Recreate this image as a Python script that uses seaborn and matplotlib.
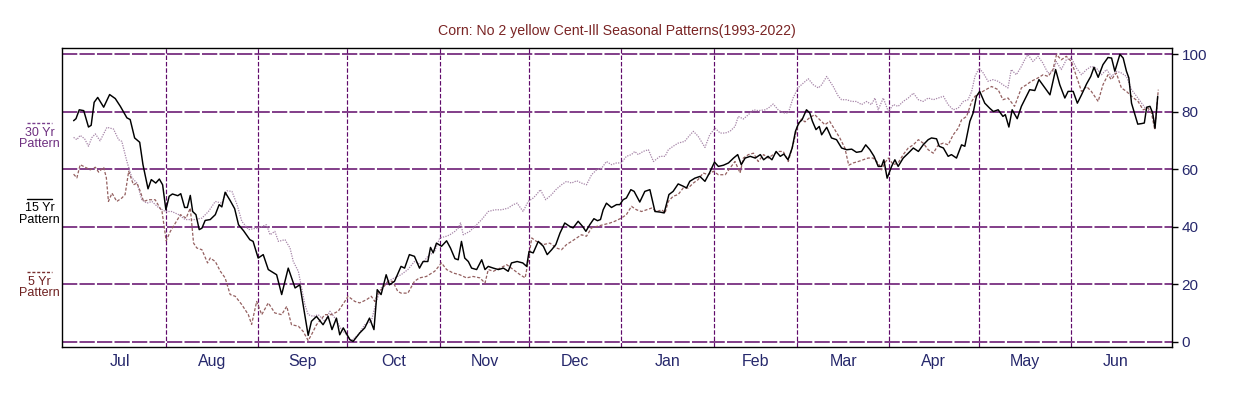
import matplotlib
matplotlib.use("Agg")
import matplotlib.pyplot as plt
import seaborn as sns
import numpy as np
import pandas as pd
from matplotlib.lines import Line2D

title = "Corn: No 2 yellow Cent-Ill Seasonal Patterns(1993-2022)"
month_names = ["Jul", "Aug", "Sep", "Oct", "Nov", "Dec", "Jan", "Feb", "Mar", "Apr", "May", "Jun"]
month_lengths = [31, 31, 30, 31, 30, 31, 31, 28, 31, 30, 31, 30]
ytick_values = [0, 20, 40, 60, 80, 100]
legend_labels = ["30 Yr", "15 Yr", "5 Yr"]

# x = calendar day counted from Jul 1, y = seasonal index (0-100)
days_15 = [0, 0.8, 1.9, 3.4, 5.0, 5.9, 6.9, 8.1, 10.1, 12.1, 14.0, 15.7, 17.9, 19.0, 20.5, 22.2, 23.3, 25.0,
           26.1, 27.6, 28.8, 29.9, 31.0, 32.1, 33.2, 35.0, 36.0, 37.3, 38.2, 39.2, 40.0, 41.1, 42.2, 43.1,
           44.2, 45.9, 47.6, 48.9, 49.8, 50.9, 52.6, 54.1, 55.4, 57.1, 59.2, 60.3, 62.0, 63.7, 65.4, 68.2,
           69.9, 72.1, 74.4, 76.0, 77.1, 78.8, 79.9, 81.6, 83.8, 85.5, 86.8, 88.3, 89.4, 90.6, 92.8, 93.9,
           96.1, 97.8, 99.4, 100.9, 102.0, 103.3, 105.0, 106.1, 107.8, 110.0, 111.2, 112.8, 114.5, 116.2,
           117.4, 119.0, 119.9, 120.8, 121.9, 123.6, 125.3, 126.6, 128.1, 129.2, 130.3, 131.4, 132.6, 133.7,
           135.4, 137.1, 138.2, 139.3, 141.0, 142.7, 144.4, 146.0, 147.1, 149.0, 150.9, 152.2, 153.0, 154.4,
           156.1, 157.8, 159.1, 160.6, 162.0, 163.4, 165.0, 166.7, 167.8, 169.5, 171.0, 172.1, 173.4, 174.8,
           176.0, 177.0, 177.9, 179.0, 180.7, 182.4, 183.5, 184.6, 185.7, 187.2, 188.3, 190.2, 191.9, 193.6,
           195.3, 197.0, 198.4, 200.0, 201.4, 203.1, 204.8, 205.9, 207.0, 208.7, 210.4, 212.1, 213.6, 215.3,
           216.6, 218.3, 220.0, 221.7, 223.1, 224.3, 225.6, 227.3, 229.0, 230.7, 231.8, 233.3, 234.6, 236.0,
           237.4, 238.6, 240.0, 241.4, 242.5, 243.6, 244.7, 246.2, 247.3, 248.2, 249.4, 250.5, 251.3, 253.0,
           254.6, 256.3, 258.0, 259.7, 261.4, 263.0, 264.7, 266.1, 267.5, 268.9, 270.3, 271.4, 272.2, 273.3,
           274.8, 275.9, 277.0, 278.7, 280.4, 282.1, 283.8, 285.4, 287.1, 288.2, 289.9, 290.8, 292.2, 293.8,
           294.9, 296.6, 298.3, 299.4, 301.1, 302.2, 303.3, 304.4, 306.1, 307.8, 309.0, 310.6, 312.2, 313.0,
           314.2, 315.3, 317.0, 318.4, 319.8, 321.2, 322.9, 324.3, 326.3, 328.0, 329.9, 331.3, 333.0, 334.1,
           335.8, 337.2, 338.6, 340.3, 341.7, 342.8, 344.2, 345.8, 347.5, 348.7, 349.8, 351.5, 352.6, 353.7,
           354.5, 355.4, 357.5, 358.8, 359.7, 360.5, 361.6, 362.5, 363.3, 364.2]
vals_15 = [76.9, 77.6, 80.7, 80.4, 74.7, 75.3, 83.3, 85.0, 81.6, 86.0, 84.6, 81.9, 77.9, 77.3, 70.9, 69.4, 61.6, 53.2,
           56.4, 55.2, 56.6, 54.6, 45.9, 50.6, 51.4, 50.8, 51.5, 46.7, 46.7, 50.9, 45.3, 44.2, 39.0, 39.5,
           42.2, 42.5, 44.2, 47.7, 46.9, 52.0, 49.1, 46.3, 40.7, 38.6, 35.5, 34.9, 29.1, 30.3, 25.1, 23.3,
           16.4, 25.6, 18.7, 19.8, 12.9, 2.2, 7.1, 8.8, 5.9, 8.8, 4.2, 8.2, 2.4, 4.8, 0.7, 0.1,
           3.0, 4.8, 8.2, 4.2, 18.1, 16.4, 23.3, 19.8, 21.0, 26.2, 25.6, 30.3, 29.7, 25.6,
           27.9, 27.9, 32.8, 30.9, 34.3, 33.2, 35.1, 32.6, 28.9, 28.5, 34.9, 29.1, 27.9, 25.6,
           25.1, 28.5, 25.1, 26.2, 25.6, 25.1, 25.6, 24.5, 27.4, 27.9, 27.4, 26.2, 31.4, 30.9,
           34.9, 33.2, 30.3, 32.0, 33.8, 37.8, 41.3, 40.1, 39.6, 41.9, 40.1, 38.4, 40.7, 42.8,
           42.1, 42.5, 45.9, 48.2, 46.7, 47.7, 47.7, 49.4, 50.0, 52.9, 52.3, 48.6, 52.3, 52.9,
           45.3, 45.1, 44.8, 51.2, 52.3, 54.9, 54.1, 53.5, 55.8, 56.9, 57.5, 55.8, 58.7, 62.5,
           61.0, 61.4, 62.2, 63.9, 65.1, 61.6, 63.9, 64.5, 63.9, 65.1, 63.3, 64.5, 63.3, 66.2,
           64.5, 65.3, 63.3, 67.4, 73.2, 76.1, 77.2, 80.7, 79.6, 76.7, 73.8, 74.9, 72.0, 74.6,
           70.9, 70.3, 67.4, 66.8, 67.0, 65.9, 66.2, 68.5, 66.8, 64.5, 61.0, 61.0, 63.3, 56.9,
           61.0, 63.3, 61.0, 63.9, 65.6, 67.4, 66.2, 68.5, 70.3, 70.9, 70.6, 68.0, 67.4, 64.5,
           65.1, 63.9, 68.5, 68.0, 76.7, 79.6, 85.4, 87.1, 83.0, 81.2, 80.1, 80.7, 78.4, 79.0,
           74.7, 80.7, 77.6, 81.9, 84.8, 87.7, 87.4, 91.2, 88.3, 85.9, 94.7, 89.4, 84.8, 87.1,
           87.1, 83.0, 85.9, 89.7, 92.3, 95.5, 92.0, 96.4, 98.9, 98.7, 94.1, 100.0, 98.7, 94.1,
           91.8, 83.0, 75.7, 75.9, 76.1, 81.6, 81.9, 79.6, 74.3, 85.4]

days_30 = [0, 1.1, 2.2, 3.7, 5.0, 6.1, 7.3, 8.9, 11.2, 13.4, 15.1, 16.2, 17.9, 19.6, 21.3, 22.9, 24.6, 26.3,
           28.5, 30.8, 33.0, 35.3, 37.5, 40.8, 43.1, 45.3, 47.6, 49.8, 51.5, 53.2, 54.9, 56.5, 58.8, 62.0,
           64.8, 66.0, 67.6, 68.8, 71.0, 72.7, 73.8, 75.5, 76.6, 77.7, 78.8, 80.5, 82.2, 84.4, 86.1, 87.8,
           90.0, 91.7, 93.3, 95.6, 97.8, 100.0, 101.7, 103.3, 105.6, 107.8, 110.0, 112.3, 114.5, 116.8,
           119.0, 121.3, 123.0, 125.3, 126.4, 128.1, 129.2, 130.0, 130.9, 133.1, 135.4, 137.1, 139.3, 141.5,
           143.8, 146.0, 147.7, 149.0, 151.0, 152.7, 154.4, 155.5, 156.8, 158.6, 160.6, 162.0, 163.9, 165.6,
           167.3, 169.0, 170.6, 172.3, 174.0, 175.7, 177.4, 179.0, 180.7, 182.4, 184.0, 185.7, 187.4, 188.5,
           189.7, 191.3, 193.1, 194.8, 197.0, 198.7, 199.8, 201.4, 203.1, 205.3, 206.7, 208.2, 209.8, 212.1,
           213.7, 215.5, 217.2, 218.9, 220.5, 222.2, 223.3, 225.0, 226.7, 228.4, 230.0, 232.3, 233.4, 235.0,
           236.7, 238.4, 240.1, 241.7, 243.4, 244.5, 246.8, 248.5, 250.2, 251.3, 253.0, 255.2, 256.9, 258.0,
           259.7, 261.4, 263.0, 264.7, 266.4, 268.0, 269.2, 270.3, 272.0, 273.7, 275.4, 277.0, 278.7, 280.4,
           282.1, 283.8, 285.4, 287.1, 288.8, 290.5, 292.2, 293.8, 295.5, 297.2, 298.9, 300.5, 301.7, 302.8,
           304.2, 305.6, 307.2, 308.9, 310.6, 312.2, 313.9, 315.0, 316.7, 318.4, 319.5, 320.6, 322.3, 324.0,
           325.6, 327.3, 329.0, 330.1, 331.8, 333.5, 335.2, 336.9, 338.6, 340.3, 341.9, 343.6, 345.3, 347.0,
           348.7, 350.4, 352.0, 353.7, 355.4, 357.1, 358.8, 360.5, 362.1, 363.3, 364.2]
vals_30 = [71.1, 70.3, 71.8, 70.6, 68.0, 71.0, 72.3, 69.9, 74.6, 74.0, 70.3, 69.7, 62.7, 57.0, 55.2, 49.4, 48.2, 48.8,
           46.7, 45.3, 45.3, 44.2, 42.5, 42.5, 43.0, 45.3, 48.8, 48.2, 52.5, 52.3, 47.7, 41.9, 39.0, 39.6,
           40.7, 37.2, 38.4, 34.9, 35.5, 32.6, 27.9, 24.5, 18.7, 12.9, 9.4, 8.8, 9.4, 7.1, 10.6, 8.2,
           4.2, 2.4, 0.4, 2.4, 5.9, 7.1, 14.0, 18.7, 21.0, 22.2, 23.3, 25.1, 27.9, 26.8,
           29.7, 31.4, 36.1, 36.7, 37.2, 38.4, 39.5, 41.3, 37.2, 38.4, 40.7, 42.5, 45.3, 45.9,
           45.9, 46.5, 47.7, 48.2, 45.3, 48.8, 50.0, 51.2, 52.9, 49.4, 51.2, 52.9, 54.6, 55.8,
           55.2, 56.0, 55.2, 54.6, 58.1, 59.8, 60.4, 62.7, 61.6, 62.2, 62.2, 64.5, 65.1, 66.2,
           65.1, 66.2, 66.8, 62.7, 64.5, 64.5, 66.8, 68.0, 69.1, 69.7, 71.5, 73.2, 71.5, 67.6,
           72.0, 74.3, 72.6, 72.6, 73.2, 74.9, 78.4, 77.5, 79.0, 80.7, 80.4, 80.7, 81.3, 82.7,
           80.7, 79.6, 79.6, 84.8, 88.4, 89.4, 91.5, 89.4, 88.3, 89.4, 92.3, 88.8, 85.4, 84.2,
           84.2, 83.6, 83.6, 82.5, 83.6, 82.5, 84.8, 80.7, 84.8, 80.1, 82.5, 81.9, 83.6, 84.8,
           86.5, 84.2, 83.6, 84.8, 84.2, 84.8, 85.4, 82.5, 80.7, 81.3, 83.6, 84.2, 87.1, 92.3,
           95.2, 93.5, 90.6, 91.2, 90.6, 89.4, 88.3, 94.7, 92.9, 95.8, 98.1, 99.9, 97.5, 99.3,
           97.0, 93.5, 94.1, 97.5, 94.7, 98.1, 98.7, 95.2, 92.9, 94.7, 95.8, 95.2, 92.9, 94.7,
           92.3, 94.1, 93.5, 92.3, 87.7, 85.4, 83.0, 80.7, 80.1, 76.1, 83.6]

days_5 = [0, 1.1, 2.2, 3.9, 5.6, 7.3, 8.4, 10.1, 11.0, 11.7, 12.9, 14.5, 16.2, 17.3, 18.5, 20.1, 21.3, 22.4,
          23.5, 25.2, 27.4, 29.7, 31.1, 32.5, 34.2, 35.9, 37.8, 39.2, 40.3, 41.4, 43.1, 45.0, 45.9, 47.6,
          49.3, 50.9, 52.6, 54.3, 56.5, 58.7, 59.8, 61.5, 63.2, 65.4, 67.6, 69.9, 71.6, 73.2, 75.5, 77.1,
          78.8, 79.9, 81.6, 84.4, 86.6, 88.9, 91.1, 92.2, 94.5, 96.1, 98.4, 100.0, 101.2, 102.3, 103.9, 105.6,
          107.2, 108.9, 110.0, 112.3, 114.5, 116.2, 118.5, 121.3, 123.6, 125.3, 127.5, 129.7, 132.0, 134.2,
          136.5, 138.2, 139.3, 141.0, 143.3, 145.5, 147.7, 150.0, 151.7, 152.7, 153.9, 155.5, 157.8, 160.0,
          162.2, 163.9, 165.6, 167.3, 169.0, 170.6, 172.3, 174.0, 175.7, 177.9, 180.2, 181.8, 184.0, 185.7,
          187.4, 189.1, 190.8, 192.5, 194.2, 195.9, 197.6, 198.7, 199.8, 201.4, 203.1, 204.8, 206.5, 208.2,
          209.8, 211.5, 213.2, 214.9, 216.6, 218.9, 220.5, 222.2, 223.9, 225.0, 226.7, 228.4, 230.0, 231.8,
          233.4, 235.0, 236.7, 238.4, 240.1, 241.7, 243.2, 244.5, 245.7, 247.3, 249.0, 250.7, 252.4, 254.0,
          255.7, 257.4, 259.1, 260.4, 261.9, 263.6, 265.3, 266.9, 268.6, 270.3, 271.4, 272.5, 273.7, 275.4,
          277.0, 278.7, 280.4, 282.1, 283.8, 285.4, 287.1, 288.8, 290.5, 292.2, 293.8, 295.5, 297.2, 298.3,
          300.0, 301.7, 302.8, 304.5, 306.1, 308.4, 310.6, 312.2, 313.9, 316.1, 318.4, 320.1, 321.7, 324.0,
          325.7, 327.4, 329.0, 330.2, 331.8, 333.5, 335.2, 336.9, 338.6, 340.3, 341.9, 344.2, 345.8, 347.5,
          348.6, 350.3, 352.0, 353.7, 355.4, 357.6, 359.3, 361.0, 362.1, 363.2, 364.4]
vals_5 = [58.3, 57.0, 61.6, 60.7, 59.8, 60.7, 59.0, 60.7, 57.0, 48.8, 51.7, 48.8, 50.0, 51.2, 59.3, 54.6, 55.2, 52.3,
          48.8, 49.4, 49.4, 45.3, 35.1, 38.4, 41.3, 44.2, 43.0, 46.5, 34.3, 32.6, 32.0, 27.4, 29.1, 27.9,
          24.5, 22.2, 16.4, 15.8, 12.9, 9.4, 6.0, 14.0, 9.4, 13.5, 10.0, 9.4, 12.3, 5.9, 5.4, 3.6,
          0.4, 2.4, 5.9, 9.4, 9.4, 10.6, 14.0, 15.8, 14.0, 13.5, 14.6, 15.8, 14.0, 16.9, 18.7, 21.0,
          21.0, 17.5, 16.9, 16.9, 21.0, 22.2, 22.7, 24.5, 27.4, 25.1, 23.9, 23.3, 22.2, 22.7,
          22.2, 20.4, 25.1, 24.5, 25.6, 26.8, 25.1, 23.3, 22.2, 27.9, 36.1, 34.9, 33.8, 34.3,
          32.6, 32.0, 33.8, 34.9, 36.1, 37.2, 36.7, 39.6, 40.1, 40.7, 41.3, 41.9, 43.0, 44.2,
          47.1, 45.9, 45.3, 45.9, 46.5, 45.3, 45.9, 44.8, 48.8, 50.6, 51.2, 53.5, 53.5, 55.2,
          56.4, 58.7, 58.1, 59.3, 58.1, 58.1, 60.4, 62.7, 58.7, 63.9, 65.1, 65.6, 62.7, 65.1,
          63.9, 65.1, 66.2, 66.2, 62.7, 68.6, 74.9, 77.5, 76.5, 78.0, 79.0, 77.2, 75.5, 76.7,
          73.8, 70.9, 67.4, 61.4, 62.2, 62.7, 63.3, 63.9, 63.9, 62.2, 59.8, 62.2, 63.9, 61.6,
          62.2, 65.1, 67.4, 68.5, 70.3, 69.1, 66.8, 65.6, 68.5, 69.1, 68.5, 72.0, 74.3, 77.2,
          78.4, 83.6, 85.4, 86.5, 87.5, 88.8, 87.7, 84.2, 84.8, 81.9, 88.3, 89.4, 90.6, 91.8,
          92.9, 92.3, 94.7, 99.9, 98.1, 99.3, 97.5, 92.3, 87.1, 88.8, 87.1, 83.6, 89.4, 92.9,
          91.2, 93.5, 88.3, 87.1, 85.4, 83.6, 80.7, 81.3, 79.6, 73.8, 87.7]

# ---------------------------------------------------------------- styling
sns.set_style("white")
plt.rcParams["font.family"] = ["Liberation Sans", "DejaVu Sans"]
plt.rcParams["lines.scale_dashes"] = False

GRID = "#600a6a"
NAVY = "#26286c"
C30 = "#a685a8"
C5 = "#946060"
C15 = "#000000"

W, H = 1238, 397
fig = plt.figure(figsize=(W / 100, H / 100), dpi=100)
ax = fig.add_axes([62 / W, 1 - 347 / H, (1172 - 62) / W, (347 - 48) / H])

df30 = pd.DataFrame({"day": days_30, "value": vals_30})
df5 = pd.DataFrame({"day": days_5, "value": vals_5})
df15 = pd.DataFrame({"day": days_15, "value": vals_15})

sns.lineplot(data=df30, x="day", y="value", ax=ax, color=C30, lw=0.9,
             linestyle=(0, (0.9, 0.9)), estimator=None, sort=False, zorder=3)
sns.lineplot(data=df5, x="day", y="value", ax=ax, color=C5, lw=0.9,
             linestyle=(0, (2.2, 1.3)), estimator=None, sort=False, zorder=4)
sns.lineplot(data=df15, x="day", y="value", ax=ax, color=C15, lw=1.05,
             estimator=None, sort=False, zorder=5)

month_starts = np.concatenate([[0], np.cumsum(month_lengths)[:-1]])
month_mids = month_starts + np.array(month_lengths) / 2.0

ax.set_xlim(-3.9, 369)
ax.set_ylim(-1.85, 102.2)
ax.set_xlabel("")
ax.set_ylabel("")

ax.set_xticks(month_starts[1:])
ax.set_xticklabels([""] * (len(month_starts) - 1))
ax.set_xticks(month_mids, minor=True)
ax.set_xticklabels(month_names, minor=True)
ax.tick_params(axis="x", which="both", length=0, pad=5, labelsize=11.5, labelcolor=NAVY)

ax.yaxis.tick_right()
ax.set_yticks(ytick_values)
ax.set_yticklabels([str(v) for v in ytick_values])
ax.tick_params(axis="y", which="major", direction="out", length=4, width=1, color="black",
               labelsize=11, labelcolor=NAVY, pad=3, left=False, right=True,
               labelleft=False, labelright=True)

ax.set_axisbelow(True)
ax.grid(False)
ax.yaxis.grid(True, which="major", color=GRID, lw=1.1, linestyle=(0, (11, 1.6)))
ax.xaxis.grid(True, which="major", color=GRID, lw=0.85, linestyle=(0, (3.2, 1.4)))

for s in ax.spines.values():
    s.set_visible(True)
    s.set_color("black")
    s.set_linewidth(1.0)

fig.text(617 / W, 1 - 31 / H, title, ha="center", va="center", fontsize=10.2, color="#7a2424")

# left-side pattern legend
legend_specs = [
    (legend_labels[0], 123, "#6e2f80", "#7a3f8e", (0, (2.2, 1.3))),
    (legend_labels[1], 198.7, "#000000", "#000000", "-"),
    (legend_labels[2], 272.3, "#6e2020", "#7a3030", (0, (2.2, 1.3))),
]
for lab, ly, tcol, lcol, ls in legend_specs:
    fig.add_artist(Line2D([27 / W, 52 / W], [1 - ly / H, 1 - ly / H], color=lcol, lw=1.0,
                          linestyle=ls, transform=fig.transFigure))
    fig.text(39.5 / W, 1 - (ly + 9.5) / H, lab, ha="center", va="center", fontsize=9, color=tcol)
    fig.text(39.5 / W, 1 - (ly + 21) / H, "Pattern", ha="center", va="center", fontsize=9, color=tcol)

fig.savefig("out.png", dpi=100, facecolor="white")
